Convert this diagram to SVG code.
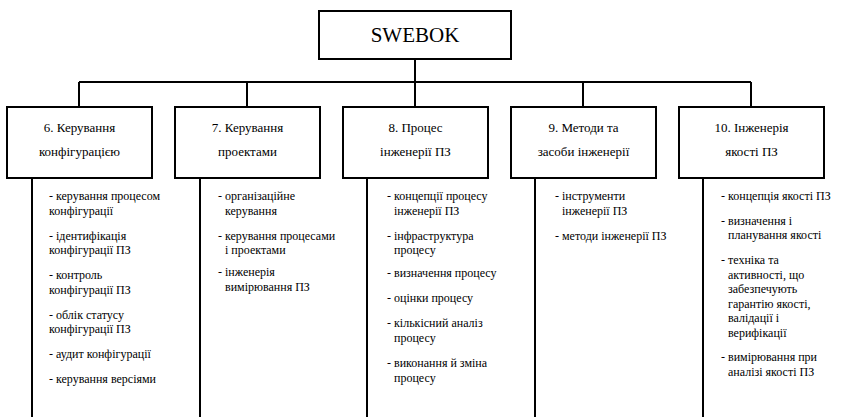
<svg xmlns="http://www.w3.org/2000/svg" width="846" height="417" viewBox="0 0 846 417">
  <style>
    .box { fill: #ffffff; stroke: #000000; stroke-width: 2; }
    .wire { fill: none; stroke: #000000; stroke-width: 2; }
    .root { font-size: 21px; text-anchor: middle; }
    .title { font-size: 13px; text-anchor: middle; }
    .item { font-size: 12px; }
  </style>

  <rect width="846" height="417" fill="#ffffff"/>

  <!-- tree connectors and topic list rails -->
  <g id="connectors">
    <path class="wire" d="M415 59 V82"/>
    <path class="wire" d="M79 82 H751" stroke-width="1.6"/>
    <path class="wire" d="M79 82 V107 M247 82 V107 M415 82 V107 M583 82 V107 M751 82 V107"/>
    <path class="wire" d="M32 178 V417 M200 178 V417 M367 178 V417 M535 178 V417 M703 178 V417"/>
  </g>

  <g font-family="Liberation Serif, Times New Roman, serif" fill="#000000">
  <!-- root -->
  <g id="swebok">
    <rect class="box" x="319" y="11" width="192" height="48"/>
    <text class="root" x="415" y="42">SWEBOK</text>
  </g>

  <!-- 6. configuration management -->
  <g id="ka6">
    <rect class="box" x="7" y="107" width="145" height="71"/>
    <text class="title" x="79.5" y="132">6. Керування</text>
    <text class="title" x="79.5" y="156">конфігурацією</text>
    <text class="item" x="49" y="200">- керування процесом</text>
    <text class="item" x="49" y="214.5">конфігурації</text>
    <text class="item" x="49" y="239.5">- ідентифікація</text>
    <text class="item" x="49" y="254">конфігурації ПЗ</text>
    <text class="item" x="49" y="279">- контроль</text>
    <text class="item" x="49" y="293.5">конфігурації ПЗ</text>
    <text class="item" x="49" y="318.5">- облік статусу</text>
    <text class="item" x="49" y="333">конфігурації ПЗ</text>
    <text class="item" x="49" y="358">- аудит конфігурації</text>
    <text class="item" x="49" y="383">- керування версіями</text>
  </g>

  <!-- 7. project management -->
  <g id="ka7">
    <rect class="box" x="175" y="107" width="145" height="71"/>
    <text class="title" x="247.5" y="132">7. Керування</text>
    <text class="title" x="247.5" y="156">проектами</text>
    <text class="item" x="218" y="200">- організаційне</text>
    <text class="item" x="225" y="214.5">керування</text>
    <text class="item" x="218" y="239.5">- керування процесами</text>
    <text class="item" x="225" y="254">і проектами</text>
    <text class="item" x="218" y="276">- інженерія</text>
    <text class="item" x="225" y="290.5">вимірювання ПЗ</text>
  </g>

  <!-- 8. engineering process -->
  <g id="ka8">
    <rect class="box" x="343" y="107" width="145" height="71"/>
    <text class="title" x="415.5" y="132">8. Процес</text>
    <text class="title" x="415.5" y="156">інженерії ПЗ</text>
    <text class="item" x="387" y="200">- концепції процесу</text>
    <text class="item" x="394" y="214.5">інженерії ПЗ</text>
    <text class="item" x="387" y="239.5">- інфраструктура</text>
    <text class="item" x="394" y="254">процесу</text>
    <text class="item" x="387" y="276.5">- визначення процесу</text>
    <text class="item" x="387" y="302">- оцінки процесу</text>
    <text class="item" x="387" y="327">- кількісний аналіз</text>
    <text class="item" x="394" y="341.5">процесу</text>
    <text class="item" x="387" y="367">- виконання й зміна</text>
    <text class="item" x="394" y="381.5">процесу</text>
  </g>

  <!-- 9. methods and tools -->
  <g id="ka9">
    <rect class="box" x="511" y="107" width="145" height="71"/>
    <text class="title" x="583.5" y="132">9. Методи та</text>
    <text class="title" x="583.5" y="156">засоби інженерії</text>
    <text class="item" x="555" y="200">- інструменти</text>
    <text class="item" x="562" y="214.5">інженерії ПЗ</text>
    <text class="item" x="555" y="239.5">- методи інженерії ПЗ</text>
  </g>

  <!-- 10. quality -->
  <g id="ka10">
    <rect class="box" x="679" y="107" width="145" height="71"/>
    <text class="title" x="751.5" y="132">10. Інженерія</text>
    <text class="title" x="751.5" y="156">якості ПЗ</text>
    <text class="item" x="721" y="200">- концепція якості ПЗ</text>
    <text class="item" x="721" y="224.5">- визначення і</text>
    <text class="item" x="728" y="239">планування якості</text>
    <text class="item" x="721" y="264">- техніка та</text>
    <text class="item" x="728" y="278.5">активності, що</text>
    <text class="item" x="728" y="293">забезпечують</text>
    <text class="item" x="728" y="307.5">гарантію якості,</text>
    <text class="item" x="728" y="322">валідації і</text>
    <text class="item" x="728" y="336.5">верифікації</text>
    <text class="item" x="721" y="361">- вимірювання при</text>
    <text class="item" x="728" y="375.5">аналізі якості ПЗ</text>
  </g>
  </g>
</svg>
